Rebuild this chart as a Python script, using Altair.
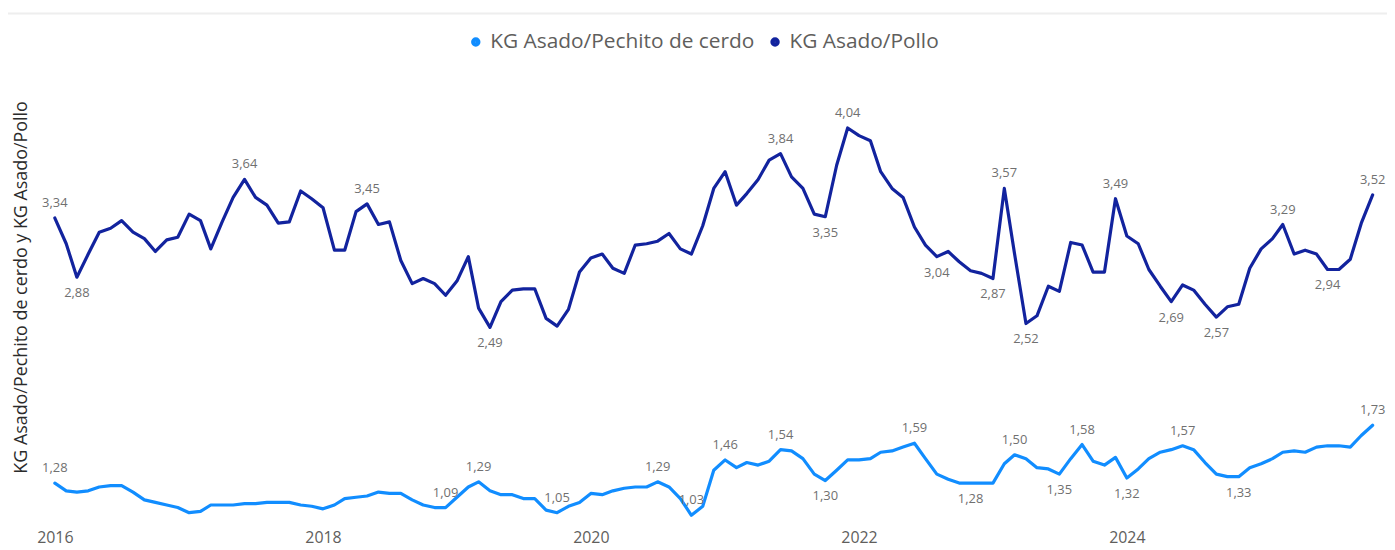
import altair as alt
import pandas as pd

# ---- data -------------------------------------------------------------
months = pd.date_range("2016-01-01", periods=119, freq="MS").strftime("%Y-%m-%d").tolist()

series_names = ["KG Asado/Pechito de cerdo", "KG Asado/Pollo"]
series_colors = ["#118DFF", "#12239E"]

pechito = [
    1.28, 1.22, 1.21, 1.22, 1.25, 1.26, 1.26, 1.21, 1.15, 1.13, 1.11, 1.09,
    1.05, 1.06, 1.11, 1.11, 1.11, 1.12, 1.12, 1.13, 1.13, 1.13, 1.11, 1.10,
    1.08, 1.11, 1.16, 1.17, 1.18, 1.21, 1.20, 1.20, 1.15, 1.11, 1.09, 1.09,
    1.17, 1.25, 1.29, 1.22, 1.19, 1.19, 1.16, 1.16, 1.07, 1.05, 1.10, 1.13,
    1.20, 1.19, 1.22, 1.24, 1.25, 1.25, 1.29, 1.25, 1.16, 1.03, 1.10, 1.38,
    1.46, 1.40, 1.44, 1.42, 1.45, 1.54, 1.53, 1.47, 1.35, 1.30, 1.38, 1.46,
    1.46, 1.47, 1.52, 1.53, 1.56, 1.59, 1.47, 1.35, 1.31, 1.28, 1.28, 1.28,
    1.28, 1.43, 1.50, 1.47, 1.40, 1.39, 1.35, 1.47, 1.58, 1.45, 1.42, 1.48,
    1.32, 1.39, 1.47, 1.52, 1.54, 1.57, 1.54, 1.44, 1.35, 1.33, 1.33, 1.40,
    1.43, 1.47, 1.52, 1.53, 1.52, 1.56, 1.57, 1.57, 1.56, 1.65, 1.73,
]

pollo = [
    3.34, 3.14, 2.88, 3.06, 3.23, 3.26, 3.32, 3.23, 3.18, 3.08, 3.17, 3.19,
    3.37, 3.32, 3.10, 3.31, 3.50, 3.64, 3.50, 3.44, 3.30, 3.31, 3.55, 3.49,
    3.42, 3.09, 3.09, 3.39, 3.45, 3.29, 3.31, 3.01, 2.83, 2.87, 2.83, 2.74,
    2.85, 3.04, 2.64, 2.49, 2.69, 2.78, 2.79, 2.79, 2.56, 2.50, 2.63, 2.92,
    3.03, 3.06, 2.95, 2.91, 3.13, 3.14, 3.16, 3.22, 3.10, 3.06, 3.28, 3.57,
    3.70, 3.44, 3.53, 3.64, 3.79, 3.84, 3.66, 3.57, 3.37, 3.35, 3.75, 4.04,
    3.98, 3.94, 3.70, 3.57, 3.50, 3.27, 3.13, 3.04, 3.08, 3.00, 2.93, 2.91,
    2.87, 3.57, 3.06, 2.52, 2.58, 2.81, 2.77, 3.15, 3.13, 2.92, 2.92, 3.49,
    3.20, 3.14, 2.94, 2.81, 2.69, 2.82, 2.78, 2.67, 2.57, 2.65, 2.67, 2.95,
    3.10, 3.18, 3.29, 3.06, 3.09, 3.06, 2.94, 2.94, 3.02, 3.30, 3.52,
]

# labelled points (month index) and whether the label sits above or below
pechito_above = [0, 35, 38, 45, 54, 57, 60, 65, 77, 86, 92, 101, 118]
pechito_below = [69, 82, 90, 96, 106]
pollo_above = [0, 17, 28, 65, 71, 85, 95, 110, 118]
pollo_below = [2, 39, 69, 79, 84, 87, 100, 104, 114]

year_ticks = [2016, 2018, 2020, 2022, 2024]

# ---- table --------------------------------------------------------------
rows = []
for name, vals, ab, be in [
    (series_names[0], pechito, pechito_above, pechito_below),
    (series_names[1], pollo, pollo_above, pollo_below),
]:
    for i, (d, v) in enumerate(zip(months, vals)):
        lab = "above" if i in ab else ("below" if i in be else "")
        rows.append({"date": d, "series": name, "value": v, "lab": lab})
df = pd.DataFrame(rows)

FONT = "Open Sans"

x_enc = alt.X(
    "date:T",
    scale=alt.Scale(
        type="utc",
        nice=False,
        domain=[
            alt.DateTime(year=2015, month=11, date=21, utc=True),
            alt.DateTime(year=2025, month=11, date=13, utc=True),
        ],
    ),
    axis=alt.Axis(
        values=[alt.DateTime(year=y, month=1, date=1, utc=True) for y in year_ticks],
        format="%Y",
        title=None,
        labelFont=FONT,
        labelFontSize=16,
        labelColor="#605E5C",
        labelPadding=4,
        labelFlush=False,
        ticks=False,
        domain=False,
        grid=False,
    ),
)

y_enc = alt.Y(
    "value:Q",
    scale=alt.Scale(domain=[0.95, 4.45], nice=False, zero=False),
    axis=alt.Axis(
        labels=False,
        ticks=False,
        domain=False,
        grid=False,
        title="KG Asado/Pechito de cerdo y KG Asado/Pollo",
        titleFont=FONT,
        titleFontSize=18,
        titleFontWeight="normal",
        titleColor="#2b2b2b",
        titleAngle=270,
        titleX=-18,
        titleY=213,
        titleAlign="center",
        titleBaseline="middle",
    ),
)

base = alt.Chart(df)

lines = base.mark_line(strokeWidth=3.2, strokeJoin="round", strokeCap="round").encode(
    x=x_enc,
    y=y_enc,
    color=alt.Color(
        "series:N",
        scale=alt.Scale(domain=series_names, range=series_colors),
        legend=alt.Legend(
            title=None,
            orient="none",
            legendX=428,
            legendY=-44,
            direction="horizontal",
            symbolType="circle",
            symbolSize=20,
            symbolStrokeWidth=5,
            labelFont=FONT,
            labelFontSize=21,
            labelColor="#605E5C",
            labelOffset=4,
            labelLimit=500,
            columnPadding=8,
            padding=0,
        ),
    ),
)

label_txt = "replace(format(datum.value, '.2f'), '.', ',')"

labels_above = (
    base.transform_filter("datum.lab == 'above'")
    .transform_calculate(txt=label_txt)
    .mark_text(dy=-15, fontSize=13, font=FONT, color="#707070", baseline="middle")
    .encode(x=x_enc, y=y_enc, text="txt:N")
)

labels_below = (
    base.transform_filter("datum.lab == 'below'")
    .transform_calculate(txt=label_txt)
    .mark_text(dy=16, fontSize=13, font=FONT, color="#707070", baseline="middle")
    .encode(x=x_enc, y=y_enc, text="txt:N")
)

header_line = (
    alt.Chart(pd.DataFrame({"k": [0]}))
    .mark_rule(color="#EEEEEE", strokeWidth=2)
    .encode(x=alt.value(-32), x2=alt.value(1355), y=alt.value(-62))
)

chart = (
    alt.layer(header_line, lines, labels_above, labels_below)
    .properties(
        width=1345,
        height=453,
        padding={"left": 32, "top": 66, "right": 10, "bottom": 24},
        autosize=alt.AutoSizeParams(type="none"),
        background="white",
    )
    .configure_view(stroke=None)
)

chart.save("out.html", embed_options={"renderer": "svg", "actions": False})
